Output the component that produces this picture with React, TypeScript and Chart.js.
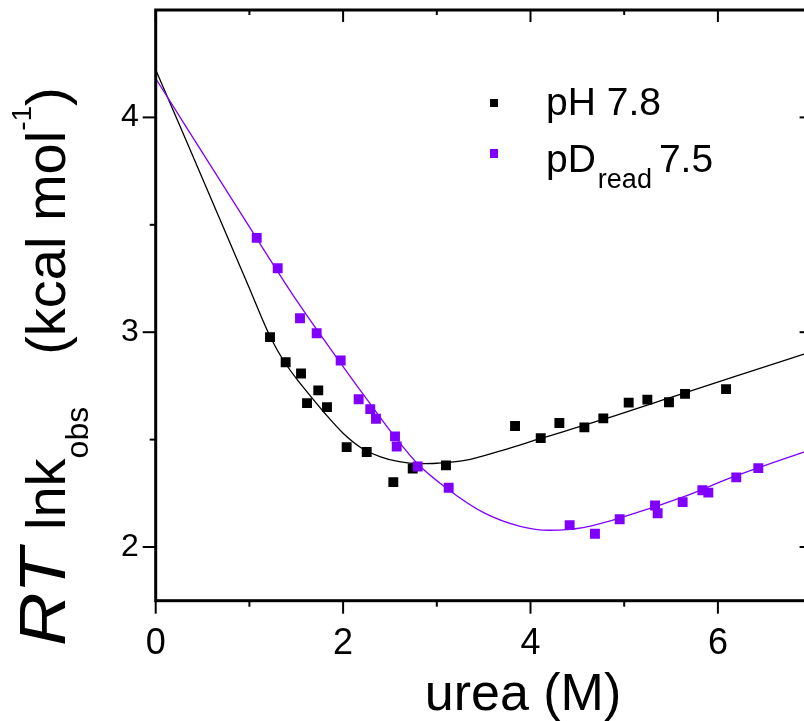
import React, { useEffect, useRef } from 'react';
import { Chart, registerables } from 'chart.js';

Chart.register(...registerables);

// ---- data ----
const ureaPH = [1.22, 1.387, 1.551, 1.615, 1.735, 1.828, 2.038, 2.252, 2.536, 2.743, 3.098, 3.835, 4.109, 4.308, 4.575, 4.777, 5.048, 5.247, 5.478, 5.649, 6.087];
const rtlnkPH = [2.977, 2.86, 2.808, 2.67, 2.729, 2.651, 2.465, 2.442, 2.302, 2.365, 2.38, 2.563, 2.507, 2.577, 2.557, 2.599, 2.672, 2.686, 2.674, 2.713, 2.735];

const ureaPD = [1.078, 1.302, 1.54, 1.718, 1.974, 2.166, 2.29, 2.351, 2.554, 2.572, 2.796, 3.127, 4.418, 4.688, 4.952, 5.329, 5.357, 5.624, 5.834, 5.898, 6.196, 6.431];
const rtlnkPD = [3.439, 3.298, 3.065, 2.995, 2.868, 2.688, 2.642, 2.597, 2.515, 2.468, 2.375, 2.276, 2.102, 2.062, 2.129, 2.193, 2.157, 2.209, 2.264, 2.253, 2.324, 2.367];

const fitUreaPH = [0, 1.0, 1.1, 1.2, 1.3, 1.4, 1.5, 1.6, 1.8, 2.0, 2.2, 2.4, 2.6, 2.8, 3.0, 3.3, 3.7, 4.1, 4.74, 5.45, 6.16, 7.0];
const fitPH = [4.222, 3.205, 3.1, 3.0, 2.915, 2.845, 2.785, 2.73, 2.625, 2.53, 2.46, 2.42, 2.397, 2.388, 2.39, 2.403, 2.45, 2.504, 2.589, 2.69, 2.791, 2.91];

const fitUreaPD = [0, 1.0, 1.5, 2.0, 2.3, 2.55, 2.8, 3.1, 3.5, 3.9, 4.2, 4.56, 5.1, 5.63, 6.16, 7.0];
const fitPD = [4.181, 3.49, 3.15, 2.84, 2.66, 2.515, 2.385, 2.275, 2.16, 2.095, 2.078, 2.09, 2.155, 2.233, 2.326, 2.455];

const xTickLabels = [0, 2, 4, 6];
const xMinorTicks = [1, 3, 5];
const yTickLabels = [2, 3, 4];
const yMinorTicks = [2.5, 3.5];

const legendLabels = ['pH 7.8', 'pD', 'read', '7.5'];
const xTitle = 'urea (M)';

const BLACK = '#000000';
const PURPLE = '#8000ff';
const FONT = '"Liberation Sans", Arial, Helvetica, sans-serif';

const toPts = (xs: number[], ys: number[]) => xs.map((x, i) => ({ x, y: ys[i] }));

const decorPlugin = {
  id: 'decor',
  afterDraw(chart: any) {
    const { ctx, chartArea: a, scales } = chart;
    const xs = scales.x;
    const ys = scales.y;
    ctx.save();
    ctx.strokeStyle = BLACK;
    ctx.lineCap = 'butt';
    // frame
    ctx.lineWidth = 3;
    ctx.strokeRect(a.left, a.top, a.right - a.left, a.bottom - a.top);
    const seg = (x1: number, y1: number, x2: number, y2: number) => {
      ctx.beginPath();
      ctx.moveTo(x1, y1);
      ctx.lineTo(x2, y2);
      ctx.stroke();
    };
    ctx.lineWidth = 2;
    xTickLabels.forEach((v) => {
      const p = xs.getPixelForValue(v);
      seg(p, a.bottom, p, a.bottom + 13);
      seg(p, a.top, p, a.top + 12);
    });
    xMinorTicks.forEach((v) => {
      const p = xs.getPixelForValue(v);
      seg(p, a.bottom, p, a.bottom + 6);
      seg(p, a.top, p, a.top + 5);
    });
    yTickLabels.forEach((v) => {
      const p = ys.getPixelForValue(v);
      seg(a.left, p, a.left - 13, p);
      seg(a.right, p, a.right - 12, p);
    });
    yMinorTicks.forEach((v) => {
      const p = ys.getPixelForValue(v);
      seg(a.left, p, a.left - 6, p);
      seg(a.right, p, a.right - 5, p);
    });

    // x title
    ctx.fillStyle = BLACK;
    ctx.textAlign = 'center';
    ctx.textBaseline = 'alphabetic';
    ctx.font = `52px ${FONT}`;
    ctx.fillText(xTitle, 523, 710);

    // y title (rotated)
    ctx.save();
    ctx.translate(65, 646);
    ctx.rotate(-Math.PI / 2);
    ctx.textAlign = 'left';
    ctx.save();
    ctx.scale(1.16, 1);
    ctx.font = `italic 64px ${FONT}`;
    ctx.fillText('RT', 0, 0);
    ctx.restore();
    let u = 116;
    ctx.font = `56px ${FONT}`;
    ctx.fillText('lnk', u, 0);
    u += ctx.measureText('lnk').width;
    ctx.font = `32px ${FONT}`;
    ctx.fillText('obs', u, 23);
    u += ctx.measureText('obs').width + 52;
    ctx.font = `56px ${FONT}`;
    ctx.fillText('(kcal mol', u, 0);
    u += ctx.measureText('(kcal mol').width;
    ctx.font = `28px ${FONT}`;
    ctx.fillText('-1', u, -34);
    u += ctx.measureText('-1').width;
    ctx.font = `56px ${FONT}`;
    ctx.fillText(')', u, 0);
    ctx.restore();

    // legend
    ctx.fillStyle = BLACK;
    ctx.fillRect(490, 99, 8, 8);
    ctx.fillStyle = PURPLE;
    ctx.fillRect(490, 149, 8, 9);
    ctx.fillStyle = BLACK;
    ctx.textAlign = 'left';
    ctx.font = `39px ${FONT}`;
    ctx.fillText(legendLabels[0], 546, 115);
    ctx.fillText(legendLabels[1], 546, 172);
    let lx = 546 + ctx.measureText(legendLabels[1]).width;
    ctx.font = `27px ${FONT}`;
    ctx.fillText(legendLabels[2], lx + 2, 188);
    lx += 2 + ctx.measureText(legendLabels[2]).width + 7;
    ctx.font = `39px ${FONT}`;
    ctx.fillText(legendLabels[3], lx, 172);
    ctx.restore();
  },
};

export default function App() {
  const ref = useRef<HTMLCanvasElement | null>(null);

  useEffect(() => {
    if (!ref.current) return;
    const chart = new Chart(ref.current, {
      type: 'scatter',
      data: {
        datasets: [
          {
            label: 'pH 7.8',
            data: toPts(ureaPH, rtlnkPH),
            pointStyle: 'rect',
            pointRadius: 7,
            pointBorderWidth: 0,
            backgroundColor: BLACK,
            borderColor: BLACK,
            showLine: false,
            order: 1,
          },
          {
            label: 'pD read 7.5',
            data: toPts(ureaPD, rtlnkPD),
            pointStyle: 'rect',
            pointRadius: 7,
            pointBorderWidth: 0,
            backgroundColor: PURPLE,
            borderColor: PURPLE,
            showLine: false,
            order: 0,
          },
          {
            label: 'fit pH',
            data: toPts(fitUreaPH, fitPH),
            showLine: true,
            pointRadius: 0,
            borderColor: BLACK,
            borderWidth: 1.3,
            cubicInterpolationMode: 'monotone',
            order: 3,
          },
          {
            label: 'fit pD',
            data: toPts(fitUreaPD, fitPD),
            showLine: true,
            pointRadius: 0,
            borderColor: PURPLE,
            borderWidth: 1.3,
            cubicInterpolationMode: 'monotone',
            order: 2,
          },
        ],
      },
      options: {
        responsive: false,
        animation: false,
        devicePixelRatio: 1,
        layout: { padding: { top: 10, right: 18.4, left: 0, bottom: 0 } },
        plugins: {
          legend: { display: false },
          tooltip: { enabled: false },
          title: { display: false },
        },
        scales: {
          x: {
            type: 'linear',
            min: 0,
            max: 7,
            grid: { display: false, drawTicks: false },
            border: { display: false },
            afterBuildTicks: (s: any) => {
              s.ticks = xTickLabels.map((v) => ({ value: v }));
            },
            afterFit: (s: any) => {
              s.height = 120.3;
              s.paddingLeft = 0;
              s.paddingRight = 0;
            },
            ticks: {
              color: BLACK,
              padding: 22,
              maxRotation: 0,
              autoSkip: false,
              font: { family: FONT, size: 36 },
              callback: (v: any) => String(v),
            },
          },
          y: {
            type: 'linear',
            min: 1.75,
            max: 4.5,
            grid: { display: false, drawTicks: false },
            border: { display: false },
            afterBuildTicks: (s: any) => {
              s.ticks = yTickLabels.map((v) => ({ value: v }));
            },
            afterFit: (s: any) => {
              s.width = 155.7;
              s.paddingTop = 0;
              s.paddingBottom = 0;
            },
            ticks: {
              color: BLACK,
              padding: 17,
              autoSkip: false,
              font: { family: FONT, size: 32 },
              callback: (v: any) => String(v),
            },
          },
        },
      },
      plugins: [decorPlugin],
    });
    return () => chart.destroy();
  }, []);

  return (
    <div style={{ position: 'fixed', left: 0, top: 0, width: 804, height: 721, overflow: 'hidden', background: '#fff' }}>
      <canvas ref={ref} width={830} height={721} style={{ display: 'block', width: 830, height: 721 }} />
    </div>
  );
}
